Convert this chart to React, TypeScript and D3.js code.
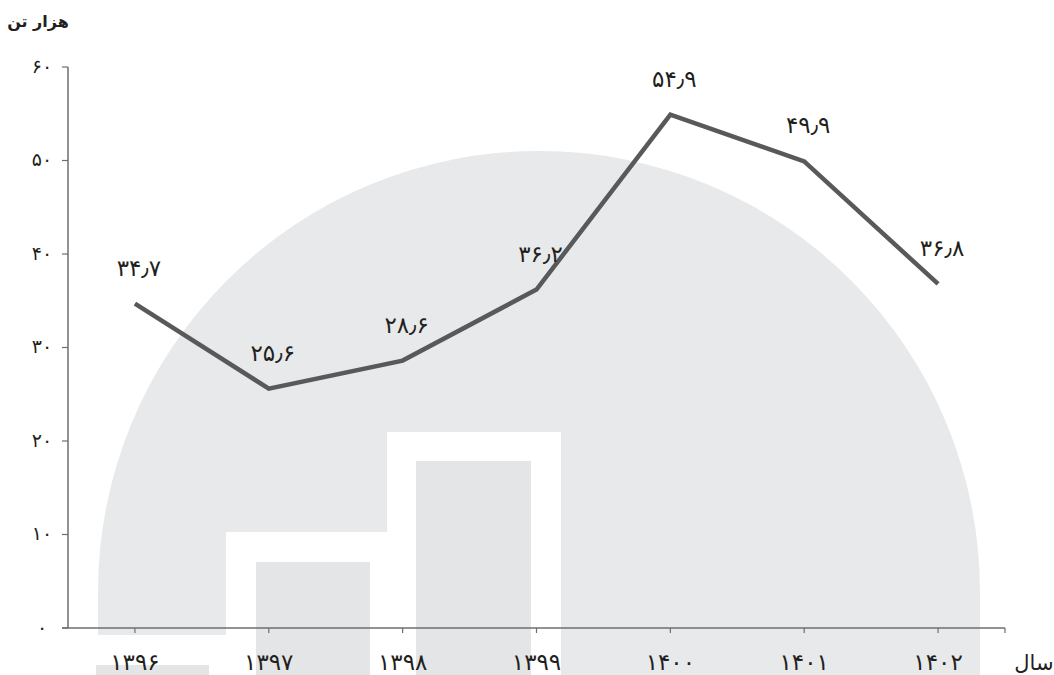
import React from "react";
import * as d3 from "d3";

const years = ["1396", "1397", "1398", "1399", "1400", "1401", "1402"];
const values = [34.7, 25.6, 28.6, 36.2, 54.9, 49.9, 36.8];
const yTicks = [0, 10, 20, 30, 40, 50, 60];
const yTitle = "هزار تن";
const xTitle = "سال";

const FA = "۰۱۲۳۴۵۶۷۸۹";
const toFa = (s: string) =>
  s.replace(/\d/g, (d) => FA[+d]).replace(".", "٫");

const W = 1054;
const H = 675;
const FONT = "'DejaVu Sans', sans-serif";

export default function App() {
  const x = d3.scaleBand<string>().domain(years).range([68, 1005]);
  const y = d3.scaleLinear().domain([0, 60]).range([628, 67]);
  const cx = (d: string) => (x(d) as number) + x.bandwidth() / 2;

  const line = d3
    .line<number>()
    .x((_, i) => cx(years[i]))
    .y((v) => y(v));

  // watermark logo geometry
  const lx = 539, lr = 441, ltop = 151;
  const lcy = ltop + lr;
  const logo = `M${lx - lr},${H} L${lx - lr},${lcy} A${lr},${lr} 0 0 1 ${lx + lr},${lcy} L${lx + lr},${H} Z`;
  const cut = `M60,635 L226,635 L226,532 L387,532 L387,432 L561,432 L561,${H} L60,${H} Z`;

  return (
    <svg
      width={W}
      height={H}
      style={{ position: "absolute", left: 0, top: 0, background: "#fff" }}
    >
      {/* watermark */}
      <path d={logo} fill="#e8e9ea" />
      <path d={cut} fill="#ffffff" />
      <rect x={96} y={665} width={113} height={H - 665} fill="#e4e5e6" />
      <rect x={256} y={562} width={114} height={H - 562} fill="#e4e5e6" />
      <rect x={416} y={461} width={115} height={H - 461} fill="#e4e5e6" />

      {/* y axis */}
      <line x1={68} x2={68} y1={y(60)} y2={y(0)} stroke="#6d6e71" strokeWidth={1.5} />
      {yTicks.map((t) => (
        <g key={t}>
          <line x1={62} x2={68} y1={y(t)} y2={y(t)} stroke="#6d6e71" strokeWidth={1.2} />
          <text
            x={42}
            y={y(t)}
            dy="0.3em"
            textAnchor="middle"
            fontFamily={FONT}
            fontSize={19}
            fill="#231f20"
          >
            {toFa(String(t))}
          </text>
        </g>
      ))}

      {/* x axis */}
      <line x1={62} x2={1005} y1={y(0)} y2={y(0)} stroke="#6d6e71" strokeWidth={1.5} />
      {years.map((yr) => (
        <g key={yr}>
          <line x1={cx(yr)} x2={cx(yr)} y1={y(0)} y2={y(0) + 5} stroke="#6d6e71" strokeWidth={1.2} />
          <text
            x={cx(yr)}
            y={670}
            textAnchor="middle"
            fontFamily={FONT}
            fontSize={23}
            fill="#231f20"
          >
            {toFa(yr)}
          </text>
        </g>
      ))}
      <line x1={1005} x2={1005} y1={y(0)} y2={y(0) + 5} stroke="#6d6e71" strokeWidth={1.2} />

      {/* line */}
      <path
        d={line(values) || ""}
        fill="none"
        stroke="#58595b"
        strokeWidth={4.5}
        strokeLinejoin="miter"
      />

      {/* labels */}
      {values.map((v, i) => (
        <text
          key={i}
          x={cx(years[i]) + 4}
          y={y(v) - 28}
          textAnchor="middle"
          fontFamily={FONT}
          fontSize={23}
          fill="#231f20"
        >
          {toFa(v.toFixed(1))}
        </text>
      ))}

      {/* titles */}
      <text
        x={38}
        y={27}
        textAnchor="middle"
        fontFamily={FONT}
        fontSize={16}
        fontWeight="bold"
        fill="#231f20"
      >
        {yTitle}
      </text>
      <text
        x={1034}
        y={670}
        textAnchor="middle"
        fontFamily={FONT}
        fontSize={21}
        fill="#231f20"
      >
        {xTitle}
      </text>
    </svg>
  );
}
